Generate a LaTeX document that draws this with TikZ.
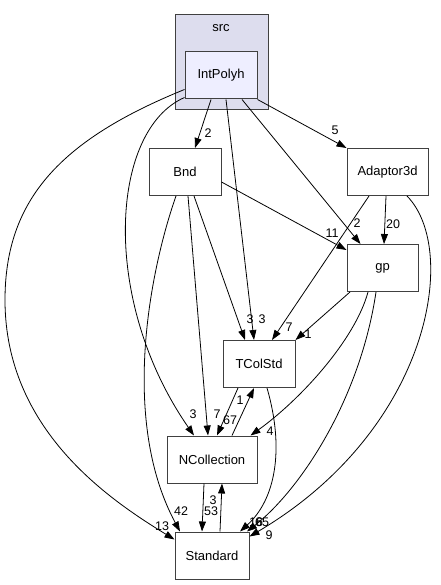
\documentclass[tikz,border=0pt]{standalone}
\usepackage{fontspec}
\setmainfont{Liberation Sans}
\usetikzlibrary{arrows.meta}
\definecolor{boxline}{HTML}{404040}
\definecolor{clusterfill}{HTML}{DDDDEE}
\definecolor{mainfill}{HTML}{EEEEFF}
\begin{document}
\begin{tikzpicture}[x=1pt,y=-1pt,
    box/.style={draw=boxline,line width=1pt,fill=white,minimum height=47pt,inner sep=0pt,font=\fontsize{13}{15}\selectfont},
    lbl/.style={inner sep=0pt,font=\fontsize{12.5}{14}\selectfont},
    edge/.style={->,>={Triangle[length=10pt,width=7pt]},line width=0.8pt}]
    \useasboundingbox(0,0)rectangle(440,585);
    \draw[boxline,fill=clusterfill,line width=1pt](175,15)rectangle(268,110);%src
    \node[lbl,font=\fontsize{13}{15}\selectfont](src)at(221,28){src};
    \node[box,fill=mainfill,minimum width=72pt](IntPolyh)at(221,75.5){IntPolyh};
    \node[box,minimum width=72pt](Bnd)at(185,172){Bnd};
    \node[box,minimum width=81pt](Adaptor3d)at(387.5,172){Adaptor3d};
    \node[box,minimum width=71pt](gp)at(382.5,268){gp};
    \node[box,minimum width=72pt](TColStd)at(259,364){TColStd};
    \node[box,minimum width=90pt](NCollection)at(212,459.5){NCollection};
    \node[box,minimum width=74pt](Standard)at(212,555.5){Standard};
    %IntPolyh
    \draw[edge]([xshift=-10pt]IntPolyh.south)--([xshift=10pt]Bnd.north);
    \draw[edge](IntPolyh.south east)--(Adaptor3d.north west);
    \draw[edge]([xshift=5pt]IntPolyh.south)--([xshift=-5pt]TColStd.north);
    \draw[edge]([xshift=21pt]IntPolyh.south)--([xshift=-22pt]gp.north);
    \draw[edge]([yshift=2pt]IntPolyh.south west)..controls(110,130)and(100,300)..([xshift=-18pt]NCollection.north);
    \draw[edge]([yshift=-14pt]IntPolyh.west)..controls(60,140)and(5,200)..(5,300)..controls(5,430)and(110,500)..([yshift=-8pt]Standard.north west);
    %Bnd
    \draw[edge]([xshift=-9pt]Bnd.south)..controls(150,270)and(120,420)..([xshift=-32pt]Standard.north);
    \draw[edge]([xshift=3pt]Bnd.south)--([xshift=-4pt]NCollection.north);
    \draw[edge]([xshift=9pt]Bnd.south)--([xshift=-14pt]TColStd.north);
    \draw[edge]([yshift=-10pt]Bnd.east)--([yshift=-6pt]gp.north west);
    %Adaptor3d
    \draw[edge]([xshift=-1.5pt]Adaptor3d.south)--([xshift=1.5pt]gp.north);
    \draw[edge]([xshift=-18.5pt]Adaptor3d.south)--([xshift=13pt]TColStd.north);
    \draw[edge]([xshift=19.5pt]Adaptor3d.south)..controls(460,250)and(430,430)..([yshift=-5pt]Standard.north east);
    %gp
    \draw[edge]([xshift=-32.5pt]gp.south)--(TColStd.north east);
    \draw[edge]([xshift=-14.5pt]gp.south)..controls(355,340)and(300,400)..([xshift=-7pt]NCollection.north east);
    \draw[edge]([xshift=-6.5pt]gp.south)..controls(360,400)and(300,490)..([xshift=35pt]Standard.north);
    %TColStd, NCollection
    \draw[edge]([xshift=-21pt]TColStd.south)--([xshift=5pt]NCollection.north);
    \draw[edge]([xshift=20pt]NCollection.north)--([xshift=-5pt]TColStd.south);
    \draw[edge]([xshift=8pt]TColStd.south)..controls(285,450)and(275,500)..([xshift=28pt]Standard.north);
    \draw[edge]([xshift=-8pt]NCollection.south)--([xshift=-10pt]Standard.north);
    \draw[edge]([xshift=8pt]Standard.north)--([xshift=10pt]NCollection.south);
    %labels
    \node[lbl](l-bnd)at(208,133){2};
    \node[lbl](l-adaptor)at(335,130){5};
    \node[lbl](l-tcolstd)at(262,319){3};
    \node[lbl](l-gp)at(357,223){2};
    \node[lbl](l-ncoll)at(193,414){3};
    \node[lbl](l-std)at(162,526){13};
    \node[lbl](l-bnd-std)at(181,511){42};
    \node[lbl](l-bnd-ncoll)at(217,414){7};
    \node[lbl](l-bnd-tcol)at(250,319){3};
    \node[lbl](l-bnd-gp)at(332,233){11};
    \node[lbl](l-ad-gp)at(393,224){20};
    \node[lbl](l-ad-tcol)at(289,327){7};
    \node[lbl](l-ad-std)at(269,535){9};
    \node[lbl](l-gp-tcol)at(308,334){1};
    \node[lbl](l-gp-ncoll)at(270,431){4};
    \node[lbl](l-gp-std)at(262,522){65};
    \node[lbl](l-tcol-ncoll)at(230,420){67};
    \node[lbl](l-ncoll-tcol)at(240,400){1};
    \node[lbl](l-tcol-std)at(256,522){16};
    \node[lbl](l-ncoll-std)at(211,511){53};
    \node[lbl](l-std-ncoll)at(213,500){3};
\end{tikzpicture}
\end{document}
